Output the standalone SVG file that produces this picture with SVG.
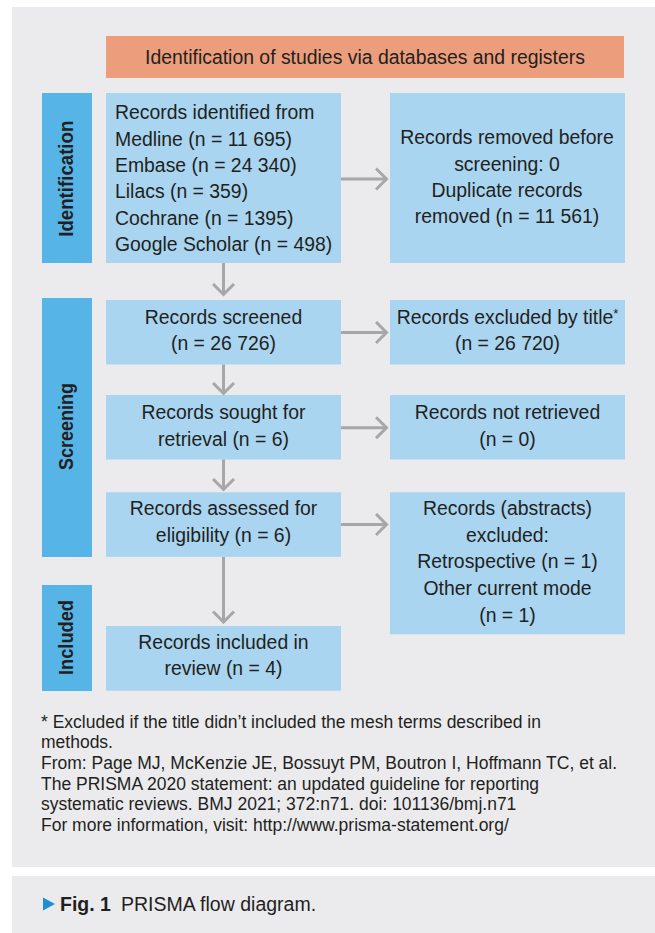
<svg xmlns="http://www.w3.org/2000/svg" width="655" height="933" viewBox="0 0 655 933">
<style>
  .panel{fill:#ebebee}
  .hdr{fill:#ec9d7b}
  .side{fill:#57b4e7}
  .box{fill:#a9d5f1}
  text{font-family:"Liberation Sans",Arial,sans-serif;fill:#231f20}
  .t{font-size:19.4px}
  .c{text-anchor:middle}
  .lbl{font-size:20px;font-weight:bold;text-anchor:middle}
  .fn{font-size:17.5px}
  .cap{font-size:19.5px}
  .conn{fill:none;stroke:#a7a7a7;stroke-width:3}
</style>
<defs>
  <marker id="chev" viewBox="0 0 14 24" refX="12.5" refY="12" markerWidth="14" markerHeight="24" orient="auto" markerUnits="userSpaceOnUse">
    <path d="M1.5,1.5 L12,12 L1.5,22.5" fill="none" stroke="#a7a7a7" stroke-width="3"/>
  </marker>
</defs>
<rect width="655" height="933" fill="#ffffff"/>
<rect class="panel" x="12" y="7" width="643" height="860"/>
<rect class="panel" x="12" y="876" width="643" height="57"/>

<g id="header">
  <rect class="hdr" x="106" y="36" width="518" height="42"/>
  <text class="t c" x="365" y="63.5">Identification of studies via databases and registers</text>
</g>

<g id="label-identification">
  <rect class="side" x="42" y="93" width="50" height="170"/>
  <text class="lbl" transform="translate(72.7,178.7) rotate(-90)" textLength="116" lengthAdjust="spacingAndGlyphs">Identification</text>
</g>
<g id="label-screening">
  <rect class="side" x="42" y="298" width="50" height="259"/>
  <text class="lbl" transform="translate(72.7,426.5) rotate(-90)" textLength="87" lengthAdjust="spacingAndGlyphs">Screening</text>
</g>
<g id="label-included">
  <rect class="side" x="42" y="585" width="50" height="106"/>
  <text class="lbl" transform="translate(72.7,637.5) rotate(-90)" textLength="75" lengthAdjust="spacingAndGlyphs">Included</text>
</g>

<g id="records-identified">
  <rect class="box" x="106" y="93" width="235" height="170"/>
  <text class="t" x="115" y="119.3">Records identified from</text>
  <text class="t" x="115" y="145.7">Medline (n = 11 695)</text>
  <text class="t" x="115" y="172">Embase (n = 24 340)</text>
  <text class="t" x="115" y="198.3">Lilacs (n = 359)</text>
  <text class="t" x="115" y="224.7">Cochrane (n = 1395)</text>
  <text class="t" x="115" y="251">Google Scholar (n = 498)</text>
</g>
<g id="records-removed">
  <rect class="box" x="390" y="93" width="235" height="170"/>
  <text class="t c" x="507" y="144">Records removed before</text>
  <text class="t c" x="507" y="170.5">screening: 0</text>
  <text class="t c" x="507" y="197">Duplicate records</text>
  <text class="t c" x="507" y="223">removed (n = 11 561)</text>
</g>
<g id="records-screened">
  <rect class="box" x="106" y="300" width="235" height="64.5"/>
  <text class="t c" x="223.5" y="324">Records screened</text>
  <text class="t c" x="223.5" y="350">(n = 26 726)</text>
</g>
<g id="records-excluded">
  <rect class="box" x="390" y="300" width="235" height="64.5"/>
  <text class="t c" x="507.5" y="324">Records excluded by title<tspan font-size="13" dy="-6">*</tspan></text>
  <text class="t c" x="507.5" y="350">(n = 26 720)</text>
</g>
<g id="records-sought">
  <rect class="box" x="106" y="395" width="235" height="64.5"/>
  <text class="t c" x="223.5" y="419">Records sought for</text>
  <text class="t c" x="223.5" y="445.7">retrieval (n = 6)</text>
</g>
<g id="records-not-retrieved">
  <rect class="box" x="390" y="395" width="235" height="64.5"/>
  <text class="t c" x="507.5" y="419">Records not retrieved</text>
  <text class="t c" x="507.5" y="445.7">(n = 0)</text>
</g>
<g id="records-assessed">
  <rect class="box" x="106" y="492.3" width="235" height="64.5"/>
  <text class="t c" x="223.5" y="515">Records assessed for</text>
  <text class="t c" x="223.5" y="541.7">eligibility (n = 6)</text>
</g>
<g id="records-abstracts-excluded">
  <rect class="box" x="390" y="492.3" width="235" height="142"/>
  <text class="t c" x="507.5" y="515">Records (abstracts)</text>
  <text class="t c" x="507.5" y="541.7">excluded:</text>
  <text class="t c" x="507.5" y="568.3">Retrospective (n = 1)</text>
  <text class="t c" x="507.5" y="595">Other current mode</text>
  <text class="t c" x="507.5" y="621.7">(n = 1)</text>
</g>
<g id="records-included">
  <rect class="box" x="106" y="626" width="235" height="64.7"/>
  <text class="t c" x="223.5" y="649.3">Records included in</text>
  <text class="t c" x="223.5" y="675.3">review (n = 4)</text>
</g>

<g id="connectors">
  <path class="conn" marker-end="url(#chev)" d="M223.5,263 V295"/>
  <path class="conn" marker-end="url(#chev)" d="M223.5,364.5 V394"/>
  <path class="conn" marker-end="url(#chev)" d="M223.5,459.5 V490"/>
  <path class="conn" marker-end="url(#chev)" d="M223.5,557 V622.5"/>
  <path class="conn" marker-end="url(#chev)" d="M341,179 H387"/>
  <path class="conn" marker-end="url(#chev)" d="M341,332.5 H387"/>
  <path class="conn" marker-end="url(#chev)" d="M341,427.7 H387"/>
  <path class="conn" marker-end="url(#chev)" d="M341,524.5 H387"/>
</g>

<g id="footnote">
  <text class="fn" x="41" y="727.5">* Excluded if the title didn’t included the mesh terms described in</text>
  <text class="fn" x="41" y="748.2">methods.</text>
  <text class="fn" x="41" y="768.9">From: Page MJ, McKenzie JE, Bossuyt PM, Boutron I, Hoffmann TC, et al.</text>
  <text class="fn" x="41" y="789.6">The PRISMA 2020 statement: an updated guideline for reporting</text>
  <text class="fn" x="41" y="810.3">systematic reviews. BMJ 2021; 372:n71. doi: 101136/bmj.n71</text>
  <text class="fn" x="41" y="831">For more information, visit: http://www.prisma-statement.org/</text>
</g>

<g id="caption">
  <polygon points="43,897.5 55,904 43,910.5" fill="#1f8fd1"/>
  <text class="cap" x="60" y="910.5"><tspan font-weight="bold">Fig. 1</tspan>  <tspan x="121">PRISMA flow diagram.</tspan></text>
</g>
</svg>
